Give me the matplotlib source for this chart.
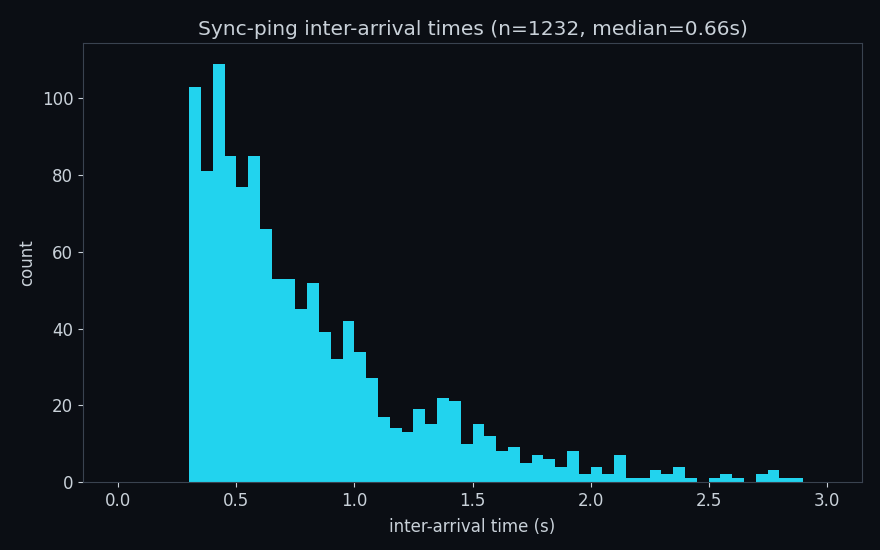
import numpy as np
import matplotlib
matplotlib.use("Agg")
import matplotlib.pyplot as plt

bin_width = 0.05
bin_starts = [round(0.05 * i, 2) for i in range(60)]
counts = [0, 0, 0, 0, 0, 0,
          103, 81, 109, 85, 77, 85, 66, 53, 53, 45,
          52, 39, 32, 42, 34, 27, 17, 14, 13, 19,
          15, 22, 21, 10, 15, 12, 8, 9, 5, 7,
          6, 4, 8, 2, 4, 2, 7, 1, 1, 3,
          2, 4, 1, 0, 1, 2, 1, 0, 2, 3,
          1, 1, 0, 0]
title = "Sync-ping inter-arrival times (n=1232, median=0.66s)"
xlabel = "inter-arrival time (s)"
ylabel = "count"

bg = "#0b0e14"
fg = "#c9d1d9"
spine = "#3a4350"
bar_color = "#22d3ee"

fig = plt.figure(figsize=(8.8, 5.5), dpi=100, facecolor=bg)
ax = fig.add_axes([83/880, 1 - 482/550, (862-83)/880, (482-43)/550])
ax.set_facecolor(bg)
edges = np.array(bin_starts + [bin_starts[-1] + bin_width])
ax.hist(edges[:-1], bins=edges, weights=counts, color=bar_color)
ax.set_title(title, color=fg, fontsize=14.5)
ax.set_xlabel(xlabel, color=fg, fontsize=12, labelpad=6)
ax.set_ylabel(ylabel, color=fg, fontsize=12)
ax.tick_params(colors=fg, labelsize=12)
for s in ax.spines.values():
    s.set_color(spine)
ax.set_yticks([0, 20, 40, 60, 80, 100])
fig.savefig("out.png", dpi=100, facecolor=bg)
